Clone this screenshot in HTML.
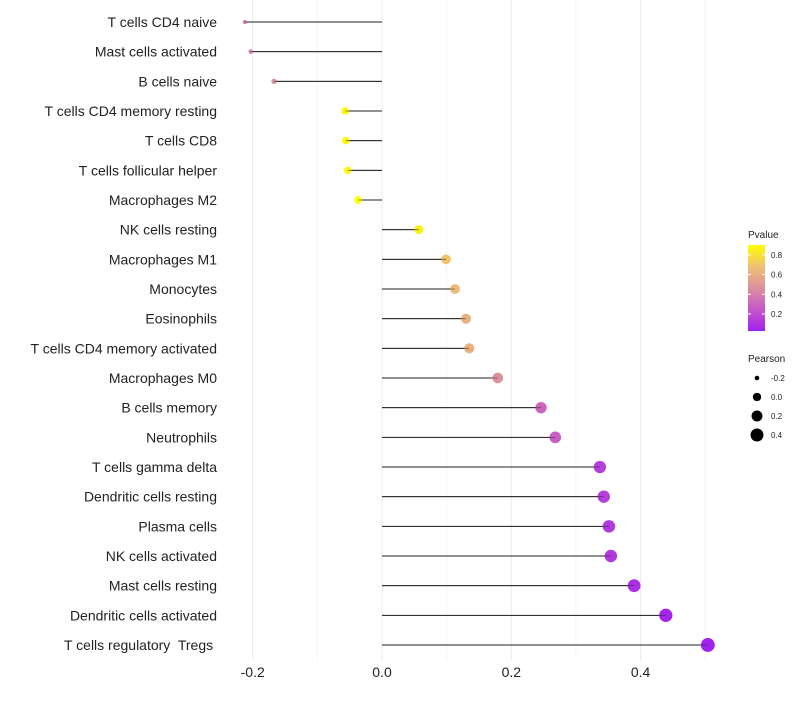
<!DOCTYPE html>
<html><head><meta charset="utf-8"><style>
body{margin:0;background:#fff;font-family:"Liberation Sans",sans-serif}
svg text{font-family:"Liberation Sans",sans-serif;white-space:pre}
</style></head><body>
<svg id="c" width="800" height="700"></svg>
<script>
const categories=["T cells CD4 naive","Mast cells activated","B cells naive","T cells CD4 memory resting","T cells CD8","T cells follicular helper","Macrophages M2","NK cells resting","Macrophages M1","Monocytes","Eosinophils","T cells CD4 memory activated","Macrophages M0","B cells memory","Neutrophils","T cells gamma delta","Dendritic cells resting","Plasma cells","NK cells activated","Mast cells resting","Dendritic cells activated","T cells regulatory  Tregs "];
const pearson=[-0.212,-0.203,-0.167,-0.057,-0.056,-0.053,-0.037,0.057,0.099,0.113,0.130,0.135,0.179,0.246,0.268,0.337,0.343,0.351,0.354,0.390,0.439,0.504];
const pvalue=[0.38,0.4,0.48,0.88,0.88,0.88,0.9,0.85,0.7,0.66,0.62,0.62,0.48,0.3,0.27,0.15,0.15,0.13,0.13,0.09,0.05,0.03];
const xTicks=[-0.2,0,0.2,0.4];
const xTickLabels=["-0.2","0.0","0.2","0.4"];
const pTicks=[0.2,0.4,0.6,0.8];
const sizeTicks=[-0.2,0,0.2,0.4];
const NS="http://www.w3.org/2000/svg",svg=document.getElementById('c');
function el(t,a,p){const e=document.createElementNS(NS,t);for(const k in a)e.setAttribute(k,a[k]);(p||svg).appendChild(e);return e;}
const x=v=>382+v*646.5, y=i=>22+i*29.667;
const pMin=0.027,pMax=0.9;
const stops=[[0,[160,32,240]],[0.25,[197,88,200]],[0.5,[220,143,160]],[0.75,[239,192,116]],[1,[255,255,0]]];
function col(p){let t=Math.max(0,Math.min(1,(p-pMin)/(pMax-pMin)));for(let i=1;i<stops.length;i++){if(t<=stops[i][0]){const a=stops[i-1],b=stops[i],f=(t-a[0])/(b[0]-a[0]);return 'rgb('+a[1].map((c,j)=>Math.round(c+(b[1][j]-c)*f)).join(',')+')';}}return 'rgb(255,255,0)';}
const rad=v=>Math.sqrt(Math.max(1.5,17.5+61*v));
for(let v=-0.2;v<=0.51;v+=0.1){const g=el('line',{x1:x(v),x2:x(v),y1:0,y2:660,stroke:Math.abs(Math.round(v*10))%2===0?'#ebebeb':'#f4f4f4','stroke-width':1});}
xTicks.forEach((v,i)=>{const t=el('text',{x:x(v),y:677,'text-anchor':'middle','font-size':14,fill:'#222'});t.textContent=xTickLabels[i];});
categories.forEach((c,i)=>{
 const t=el('text',{x:217,y:y(i)+5,'text-anchor':'end','font-size':14,fill:'#222'});t.textContent=c;
 
 const l=el('line',{x1:x(0),x2:x(pearson[i]),y1:y(i),y2:y(i),stroke:'#222','stroke-width':1});
 
 const d=el('circle',{cx:x(pearson[i]),cy:y(i),r:rad(pearson[i]),fill:col(pvalue[i])});
 
 el('line',{x1:x(0),x2:x(pearson[i]),y1:y(i),y2:y(i),stroke:'#222','stroke-width':0.8,'stroke-opacity':0.6});
});
const lt=el('text',{x:748,y:238,'font-size':10,fill:'#222'});lt.textContent='Pvalue';
const defs=el('defs',{}),gr=el('linearGradient',{id:'pg',x1:0,y1:1,x2:0,y2:0},defs);
stops.forEach(s=>el('stop',{offset:s[0],'stop-color':'rgb('+s[1].join(',')+')'},gr));
const py=p=>331-(p-pMin)/(pMax-pMin)*86;
const cb=el('rect',{x:748,y:245,width:17,height:86,fill:'url(#pg)'});
pTicks.forEach(p=>{el('line',{x1:748,x2:751,y1:py(p),y2:py(p),stroke:'#fff'});el('line',{x1:762,x2:765,y1:py(p),y2:py(p),stroke:'#fff'});const t=el('text',{x:771,y:py(p)+3,'font-size':8,fill:'#222'});t.textContent=p.toFixed(1);});
const st=el('text',{x:748,y:362,'font-size':10,fill:'#222'});st.textContent='Pearson';
sizeTicks.forEach((v,i)=>{const cy=378+i*19;const c=el('circle',{cx:757,cy:cy,r:rad(v),fill:'#000'});const t=el('text',{x:771,y:cy+3,'font-size':8,fill:'#222'});t.textContent=v.toFixed(1);});
</script>
</body></html>
